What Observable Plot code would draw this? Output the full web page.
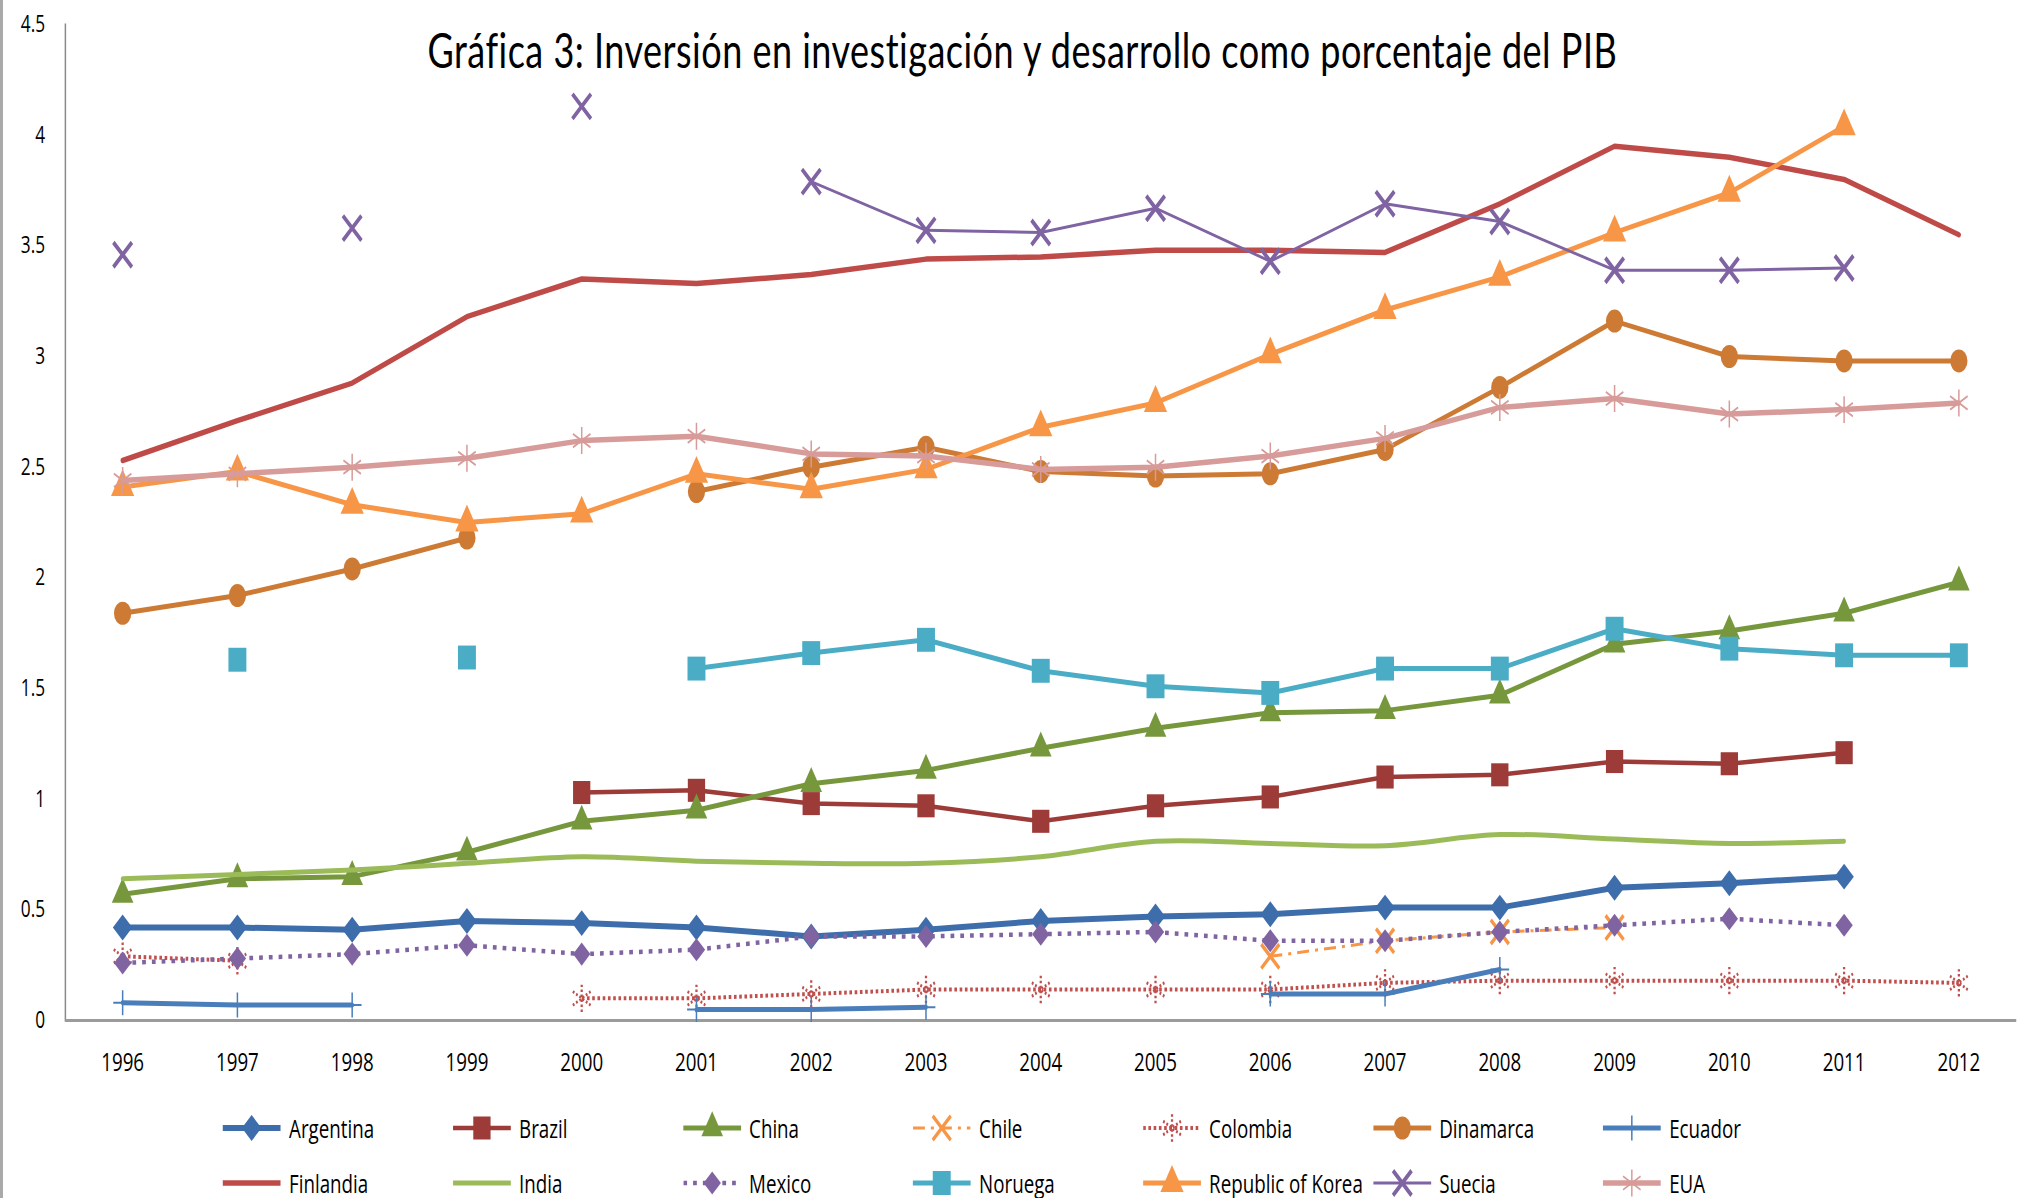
<!DOCTYPE html>
<html><head><meta charset="utf-8">
<script src="https://cdn.jsdelivr.net/npm/d3@7"></script>
<script src="https://cdn.jsdelivr.net/npm/@observablehq/plot@0.6"></script>
<style>
html,body{margin:0;padding:0;background:#fff;overflow:hidden}
#wrap{position:relative;width:2017px;height:1198px;overflow:hidden;background:#fff}
#chart{position:absolute;left:0;top:0;height:1198px;transform-origin:0 0}
#border{position:absolute;left:0;top:0;width:4px;height:1198px;background:#a9a9a9}
#title{position:absolute;left:0;top:26px;width:100%;box-sizing:border-box;padding-left:37px;text-align:center;font-family:Lato;font-size:48px;line-height:48px;letter-spacing:0.65px;color:#000;white-space:nowrap}
#legend{position:absolute;top:1100px;display:grid;font-family:"Open Sans";font-size:25px;color:#000}
.item{display:flex;align-items:center;height:55px;white-space:nowrap}
.item span{margin-left:11px}
</style></head>
<body>
<div id="wrap"><div id="chart"><div id="border"></div><div id="plot"></div><div id="title">Gráfica 3: Inversión en investigación y desarrollo como porcentaje del PIB</div><div id="legend"></div></div></div>
<script>
// ---- data (R&D as % of GDP), 1996–2012; null = no data ----
const years = [1996,1997,1998,1999,2000,2001,2002,2003,2004,2005,2006,2007,2008,2009,2010,2011,2012];
const yTicks = [0,0.5,1,1.5,2,2.5,3,3.5,4,4.5];
const countries = ["Argentina","Brazil","China","Chile","Colombia","Dinamarca","Ecuador","Finlandia","India","Mexico","Noruega","Republic of Korea","Suecia","EUA"];
const argentina = [0.42,0.42,0.41,0.45,0.44,0.42,0.38,0.41,0.45,0.47,0.48,0.51,0.51,0.60,0.62,0.65,null];
const brazil    = [null,null,null,null,1.03,1.04,0.98,0.97,0.90,0.97,1.01,1.10,1.11,1.17,1.16,1.21,null];
const china     = [0.57,0.64,0.65,0.76,0.90,0.95,1.07,1.13,1.23,1.32,1.39,1.40,1.47,1.70,1.76,1.84,1.98];
const chile     = [null,null,null,null,null,null,null,null,null,null,0.29,0.36,0.40,0.42,null,null,null];
const colombia  = [0.29,0.27,null,null,0.10,0.10,0.12,0.14,0.14,0.14,0.14,0.17,0.18,0.18,0.18,0.18,0.17];
const dinamarca = [1.84,1.92,2.04,2.18,null,2.39,2.50,2.59,2.48,2.46,2.47,2.58,2.86,3.16,3.00,2.98,2.98];
const ecuador   = [0.08,0.07,0.07,null,null,0.05,0.05,0.06,null,null,0.12,0.12,0.23,null,null,null,null];
const finlandia = [2.53,2.71,2.88,3.18,3.35,3.33,3.37,3.44,3.45,3.48,3.48,3.47,3.69,3.95,3.90,3.80,3.55];
const india     = [0.64,0.66,0.68,0.71,0.74,0.72,0.71,0.71,0.74,0.81,0.80,0.79,0.84,0.82,0.80,0.81,null];
const mexico    = [0.26,0.28,0.30,0.34,0.30,0.32,0.38,0.38,0.39,0.40,0.36,0.36,0.40,0.43,0.46,0.43,null];
const noruega   = [null,1.63,null,1.64,null,1.59,1.66,1.72,1.58,1.51,1.48,1.59,1.59,1.77,1.68,1.65,1.65];
const korea     = [2.41,2.48,2.33,2.25,2.29,2.47,2.40,2.49,2.68,2.79,3.01,3.21,3.36,3.56,3.74,4.04,null];
const suecia    = [3.46,null,3.58,null,4.13,null,3.79,3.57,3.56,3.67,3.43,3.69,3.61,3.39,3.39,3.40,null];
const eua       = [2.44,2.47,2.50,2.54,2.62,2.64,2.56,2.55,2.49,2.50,2.55,2.63,2.77,2.81,2.74,2.76,2.79];
const values = [argentina,brazil,china,chile,colombia,dinamarca,ecuador,finlandia,india,mexico,noruega,korea,suecia,eua];

// ---- styles (Excel-like) ----
const styles = [
  {color:"#3D6DAB", lw:6,   symbol:"diamond2", r:11.7, filled:true},
  {color:"#9C3B38", lw:4.5, symbol:"square",   r:13,   filled:true},
  {color:"#77973D", lw:5,   symbol:"triangle", r:10.7, filled:true},
  {color:"#F79646", lw:3,   dash:"16,8,4,8", symbol:"times", r:11, mw:4},
  {color:"#C0504D", lw:4,   dash:"3.5,3.5", symbol:"asterisk", r:13, mw:3, mdash:"2.5,2.5"},
  {color:"#CD7A34", lw:5,   symbol:"circle",   r:11.5, filled:true},
  {color:"#4A7EBB", lw:5,   symbol:"plus",     r:8.1,  mw:2},
  {color:"#BE4B48", lw:5.5},
  {color:"#9BBB59", lw:5, curve:"catmull-rom"},
  {color:"#8064A2", lw:4.5, dash:"5,8", symbol:"diamond2", r:10.4, filled:true},
  {color:"#4BACC6", lw:5,   symbol:"square",   r:13.5, filled:true},
  {color:"#F79646", lw:5,   symbol:"triangle", r:11.5, filled:true},
  {color:"#7F63A2", lw:3,   symbol:"times",    r:11.3, mw:4.5},
  {color:"#D79B99", lw:5.5, symbol:"asterisk", r:12.8, mw:2}
];

const S = 0.75;                       // horizontal compression of the original picture
const W = Math.round(2017 / S);
const chartDiv = document.getElementById("chart");
chartDiv.style.width = W + "px";
chartDiv.style.transform = `scaleX(${2017 / W})`;

const rows = [];
countries.forEach((c, k) => values[k].forEach((v, i) => rows.push({country: c, year: years[i], value: v})));

const marks = [
  Plot.frame({anchor: "left", stroke: "#8a8a8a", strokeWidth: 2}),
  Plot.ruleY([0], {stroke: "#9b9b9b", strokeWidth: 3}),
  Plot.axisX({tickSize: 0, tickPadding: 33, fontSize: 25, tickFormat: d => String(d), label: null}),
  Plot.axisY(yTicks, {tickSize: 0, tickPadding: 27, fontSize: 23, tickFormat: d => String(d), label: null})
];
countries.forEach((c, k) => {
  const s = styles[k];
  const data = rows.filter(r => r.country === c);
  marks.push(Plot.line(data, {x: "year", y: "value", stroke: s.color, strokeWidth: s.lw,
    strokeDasharray: s.dash, strokeLinecap: s.dash ? "butt" : "round", curve: s.curve || "linear"}));
  if (s.symbol) marks.push(Plot.dot(data, {x: "year", y: "value", symbol: s.symbol, r: s.r,
    fill: s.filled ? s.color : "none", stroke: s.filled ? "none" : s.color,
    strokeWidth: s.mw, strokeDasharray: s.mdash}));
});

const chart = Plot.plot({
  width: W, height: 1198,
  marginLeft: 65 / S, marginRight: 1, marginTop: 24, marginBottom: 178,
  style: {fontFamily: "'Open Sans'", background: "transparent", color: "#000", overflow: "visible"},
  x: {type: "point", domain: years, padding: 0.5},
  y: {domain: [0, 4.5]},
  marks
});
document.getElementById("plot").appendChild(chart);

// ---- legend (Excel style, 7 columns x 2 rows) ----
const symMap = {circle: d3.symbolCircle, square: d3.symbolSquare, triangle: d3.symbolTriangle,
  diamond2: d3.symbolDiamond2, times: d3.symbolTimes, plus: d3.symbolPlus, asterisk: d3.symbolAsterisk};
const legend = d3.select("#legend").style("left", (223 / S) + "px")
  .style("grid-template-columns", `repeat(7, ${230 / S}px)`);
countries.forEach((c, k) => {
  const s = styles[k];
  const item = legend.append("div").attr("class", "item");
  const svg = item.append("svg").attr("width", 77).attr("height", 40);
  svg.append("line").attr("x1", 0).attr("x2", 77).attr("y1", 20).attr("y2", 20)
    .attr("stroke", s.color).attr("stroke-width", s.lw)
    .attr("stroke-dasharray", s.dash || null).attr("stroke-linecap", s.dash ? "butt" : "round");
  if (s.symbol) svg.append("path").attr("transform", "translate(38.5,20)")
    .attr("d", d3.symbol(symMap[s.symbol], Math.PI * s.r * s.r)())
    .attr("fill", s.filled ? s.color : "none").attr("stroke", s.filled ? "none" : s.color)
    .attr("stroke-width", s.mw || null).attr("stroke-dasharray", s.mdash || null);
  item.append("span").text(c);
});
</script>
</body></html>
